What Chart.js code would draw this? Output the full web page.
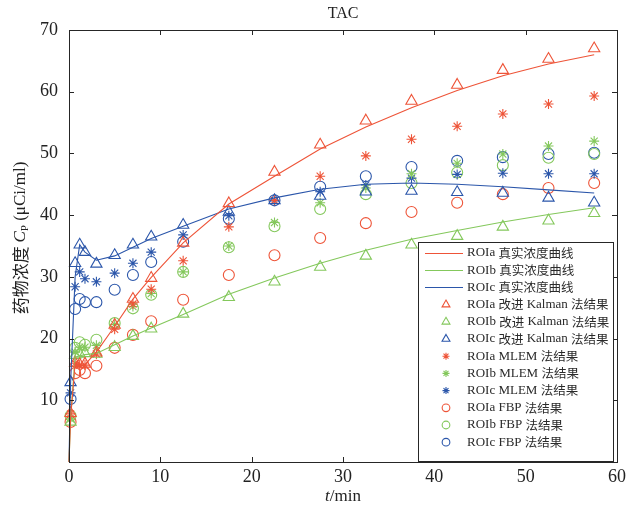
<!DOCTYPE html>
<html>
<head>
<meta charset="utf-8">
<script src="https://cdn.jsdelivr.net/npm/chart.js@4/dist/chart.umd.min.js"></script>
<style>
html,body{margin:0;padding:0;background:#fff;}
#wrap{width:642px;height:510px;position:relative;}
</style>
</head>
<body>
<div id="wrap"><canvas id="c" width="642" height="510"></canvas></div>
<script>
// ---- data ----
const times = [0.17, 0.67, 1.17, 1.75, 3, 5, 7, 9, 12.5, 17.5, 22.5, 27.5, 32.5, 37.5, 42.5, 47.5, 52.5, 57.5];
const truthTimes = [0, 0.17, 0.67, 1.17, 1.75, 3, 5, 7, 9, 12.5, 17.5, 22.5, 27.5, 32.5, 37.5, 42.5, 47.5, 52.5, 57.5];

const truthA = [0, 7.0, 16.0, 15.6, 15.8, 17.8, 22.0, 26.4, 29.9, 35.5, 41.8, 46.3, 50.7, 54.3, 57.4, 60.2, 62.6, 64.5, 66.0];
const truthB = [0, 7.0, 17.0, 17.2, 17.4, 17.6, 19.0, 20.4, 21.7, 23.9, 27.2, 29.8, 32.2, 34.3, 36.1, 37.5, 38.9, 40.1, 41.2];
const truthC = [0, 12.6, 30.0, 35.2, 34.0, 32.7, 33.4, 34.8, 36.2, 38.2, 41.0, 42.8, 44.2, 45.0, 45.2, 45.0, 44.6, 44.1, 43.6];

const kalmanA = [7.9, 16.0, 15.8, 15.9, 17.7, 22.2, 26.4, 29.8, 35.5, 41.9, 47.0, 51.4, 55.3, 58.5, 61.1, 63.5, 65.3, 67.0];
const kalmanB = [6.5, 17.3, 17.5, 17.6, 17.5, 18.6, 20.4, 21.6, 24.0, 26.7, 29.2, 31.6, 33.4, 35.2, 36.6, 38.1, 39.1, 40.3];
const kalmanC = [12.9, 32.2, 35.2, 34.0, 32.1, 33.5, 35.2, 36.5, 38.4, 40.5, 42.4, 43.1, 43.8, 43.9, 43.7, 43.6, 42.8, 42.0];

const mlemA = [7.8, 16.0, 15.7, 15.7, 17.5, 21.5, 25.6, 28.0, 32.6, 38.1, 42.4, 46.3, 49.6, 52.3, 54.4, 56.4, 58.0, 59.3];
const mlemB = [7.0, 17.8, 18.6, 18.6, 18.9, 22.3, 25.2, 27.3, 30.8, 35.0, 38.8, 42.0, 44.4, 46.7, 48.4, 49.9, 51.2, 52.0];
const mlemC = [11.2, 28.4, 30.8, 29.7, 29.2, 30.6, 32.2, 34.0, 36.8, 39.9, 42.3, 43.8, 44.9, 46.0, 46.6, 46.8, 46.7, 46.7];

const fbpA = [6.5, 14.4, 14.9, 14.4, 15.6, 18.5, 20.6, 22.8, 26.3, 30.3, 33.5, 36.3, 38.7, 40.5, 42.0, 43.4, 44.4, 45.2];
const fbpB = [7.5, 18.5, 19.4, 19.0, 19.8, 22.5, 24.9, 27.1, 30.8, 34.8, 38.2, 41.0, 43.4, 45.2, 46.9, 48.1, 49.3, 49.9];
const fbpC = [10.2, 24.8, 26.4, 25.9, 25.9, 27.9, 30.3, 32.4, 35.7, 39.4, 42.4, 44.6, 46.3, 47.8, 48.8, 49.4, 49.9, 50.1];

const legendLabels = [
  'ROIa 真实浓度曲线', 'ROIb 真实浓度曲线', 'ROIc 真实浓度曲线',
  'ROIa 改进 Kalman 法结果', 'ROIb 改进 Kalman 法结果', 'ROIc 改进 Kalman 法结果',
  'ROIa MLEM 法结果', 'ROIb MLEM 法结果', 'ROIc MLEM 法结果',
  'ROIa FBP 法结果', 'ROIb FBP 法结果', 'ROIc FBP 法结果'
];
const xTicks = [0, 10, 20, 30, 40, 50, 60];
const yTicks = [10, 20, 30, 40, 50, 60, 70];

// ---- styling ----
const RED = 'rgb(238,84,56)';
const GREEN = 'rgb(132,200,92)';
const BLUE = 'rgb(43,86,170)';
const SERIF = '"Liberation Serif", "DejaVu Serif", serif';
const CJK = '"Noto Sans CJK SC", "Noto Sans CJK JP", sans-serif';

function pts(xs, ys) { return xs.map((x, i) => ({x: x, y: ys[i]})); }

function lineDs(label, ys, color) {
  return {label, data: pts(truthTimes, ys), showLine: true, borderColor: color,
    borderWidth: 1.1, pointRadius: 0, pointHoverRadius: 0, tension: 0, fill: false, clip: false};
}
function markDs(label, ys, color, style, r) {
  return {label, data: pts(times, ys), showLine: false, borderColor: color,
    backgroundColor: 'rgba(0,0,0,0)', pointStyle: style, pointRadius: r,
    pointBorderWidth: 1.1, pointHoverRadius: r, clip: false};
}

const datasets = [
  lineDs(legendLabels[0], truthA, RED),
  lineDs(legendLabels[1], truthB, GREEN),
  lineDs(legendLabels[2], truthC, BLUE),
  markDs(legendLabels[3], kalmanA, RED, 'triangle', 6.5),
  markDs(legendLabels[4], kalmanB, GREEN, 'triangle', 6.5),
  markDs(legendLabels[5], kalmanC, BLUE, 'triangle', 6.5),
  markDs(legendLabels[6], mlemA, RED, 'star', 5),
  markDs(legendLabels[7], mlemB, GREEN, 'star', 5),
  markDs(legendLabels[8], mlemC, BLUE, 'star', 5),
  markDs(legendLabels[9], fbpA, RED, 'circle', 5.5),
  markDs(legendLabels[10], fbpB, GREEN, 'circle', 5.5),
  markDs(legendLabels[11], fbpC, BLUE, 'circle', 5.5)
];

const framePlugin = {
  id: 'frame',
  afterDatasetsDraw(chart) {
    const ctx = chart.ctx, a = chart.chartArea;
    const xs = chart.scales.x, ys = chart.scales.y;
    ctx.save();
    ctx.strokeStyle = '#262626';
    ctx.lineWidth = 1;
    ctx.strokeRect(Math.round(a.left) + 0.5, Math.round(a.top) + 0.5,
      Math.round(a.right - a.left), Math.round(a.bottom - a.top));
    ctx.beginPath();
    xTicks.forEach(v => {
      const px = Math.round(xs.getPixelForValue(v)) + 0.5;
      ctx.moveTo(px, a.bottom); ctx.lineTo(px, a.bottom - 5);
      ctx.moveTo(px, a.top); ctx.lineTo(px, a.top + 5);
    });
    yTicks.forEach(v => {
      const py = Math.round(ys.getPixelForValue(v)) + 0.5;
      ctx.moveTo(a.left, py); ctx.lineTo(a.left + 5, py);
      ctx.moveTo(a.right, py); ctx.lineTo(a.right - 5, py);
    });
    ctx.stroke();

    // title
    ctx.fillStyle = '#222';
    ctx.font = '16px ' + SERIF;
    ctx.textAlign = 'center';
    ctx.textBaseline = 'middle';
    ctx.fillText('TAC', (a.left + a.right) / 2, 14);

    // x axis title: t/min
    const p1 = 't', p2 = '/min';
    ctx.font = 'italic 17px ' + SERIF;
    const w1 = ctx.measureText(p1).width;
    ctx.font = '17px ' + SERIF;
    const w2 = ctx.measureText(p2).width;
    let sx = (a.left + a.right) / 2 - (w1 + w2) / 2;
    ctx.textAlign = 'left';
    ctx.font = 'italic 17px ' + SERIF;
    ctx.fillText(p1, sx, 497);
    ctx.font = '17px ' + SERIF;
    ctx.fillText(p2, sx + w1, 497);

    // y axis title
    ctx.save();
    ctx.translate(21, 238);
    ctx.rotate(-Math.PI / 2);
    const parts = [
      {t: '药物浓度 ', f: '17px ' + CJK, dy: 0},
      {t: 'C', f: 'italic 17px ' + SERIF, dy: 0},
      {t: 'P', f: '11px ' + SERIF, dy: 4},
      {t: ' (μCi/ml)', f: '17px ' + SERIF, dy: 0}
    ];
    let total = 0;
    parts.forEach(p => { ctx.font = p.f; p.w = ctx.measureText(p.t).width; total += p.w; });
    let cx = -total / 2;
    ctx.textAlign = 'left';
    ctx.textBaseline = 'middle';
    parts.forEach(p => { ctx.font = p.f; ctx.fillText(p.t, cx, p.dy); cx += p.w; });
    ctx.restore();

    // legend
    const L = 418, T = 242, R = 613, B = 461;
    ctx.fillStyle = '#fff';
    ctx.fillRect(L, T, R - L, B - T);
    ctx.strokeStyle = '#262626';
    ctx.strokeRect(L + 0.5, T + 0.5, R - L, B - T);
    const rowH = 17.2, y0 = 253;
    chart.data.datasets.forEach((ds, i) => {
      const y = y0 + i * rowH;
      if (ds.showLine) {
        ctx.strokeStyle = ds.borderColor;
        ctx.lineWidth = 1.1;
        ctx.beginPath();
        ctx.moveTo(425, Math.round(y) + 0.5);
        ctx.lineTo(463, Math.round(y) + 0.5);
        ctx.stroke();
      } else {
        ctx.lineWidth = 1.1;
        ctx.strokeStyle = ds.borderColor;
        ctx.fillStyle = 'rgba(0,0,0,0)';
        Chart.helpers.drawPoint(ctx, {pointStyle: ds.pointStyle, radius: ds.pointRadius * 0.7,
          borderWidth: 1.1, rotation: 0}, 446, y);
      }
      ctx.fillStyle = '#2a2a2a';
      const txt = legendLabels[i];
      const runs = txt.match(/[\u4e00-\u9fff]+|[^\u4e00-\u9fff]+/g);
      let tx = 467;
      ctx.textAlign = 'left';
      ctx.textBaseline = 'middle';
      runs.forEach(r => {
        const isCJK = /[\u4e00-\u9fff]/.test(r);
        ctx.font = isCJK ? '12.5px ' + CJK : '13px ' + SERIF;
        ctx.fillText(r, tx, y);
        tx += ctx.measureText(r).width;
      });
    });
    ctx.restore();
  }
};

new Chart(document.getElementById('c'), {
  type: 'scatter',
  data: {datasets},
  options: {
    responsive: false,
    animation: false,
    events: [],
    layout: {padding: {top: 30, right: 25, left: 0, bottom: 0}},
    plugins: {legend: {display: false}, tooltip: {enabled: false}, title: {display: false}},
    scales: {
      x: {
        type: 'linear', min: 0, max: 60,
        afterBuildTicks: s => { s.ticks = xTicks.map(v => ({value: v})); },
        afterFit: s => { s.height = 48; },
        grid: {display: false, drawTicks: false},
        border: {display: false},
        ticks: {color: '#222', font: {family: SERIF, size: 18}, padding: 4, maxRotation: 0}
      },
      y: {
        type: 'linear', min: 0, max: 70,
        afterBuildTicks: s => { s.ticks = yTicks.map(v => ({value: v})); },
        afterFit: s => { s.width = 69; },
        grid: {display: false, drawTicks: false},
        border: {display: false},
        ticks: {color: '#222', font: {family: SERIF, size: 18}, padding: 11}
      }
    }
  },
  plugins: [framePlugin]
});
</script>
</body>
</html>
